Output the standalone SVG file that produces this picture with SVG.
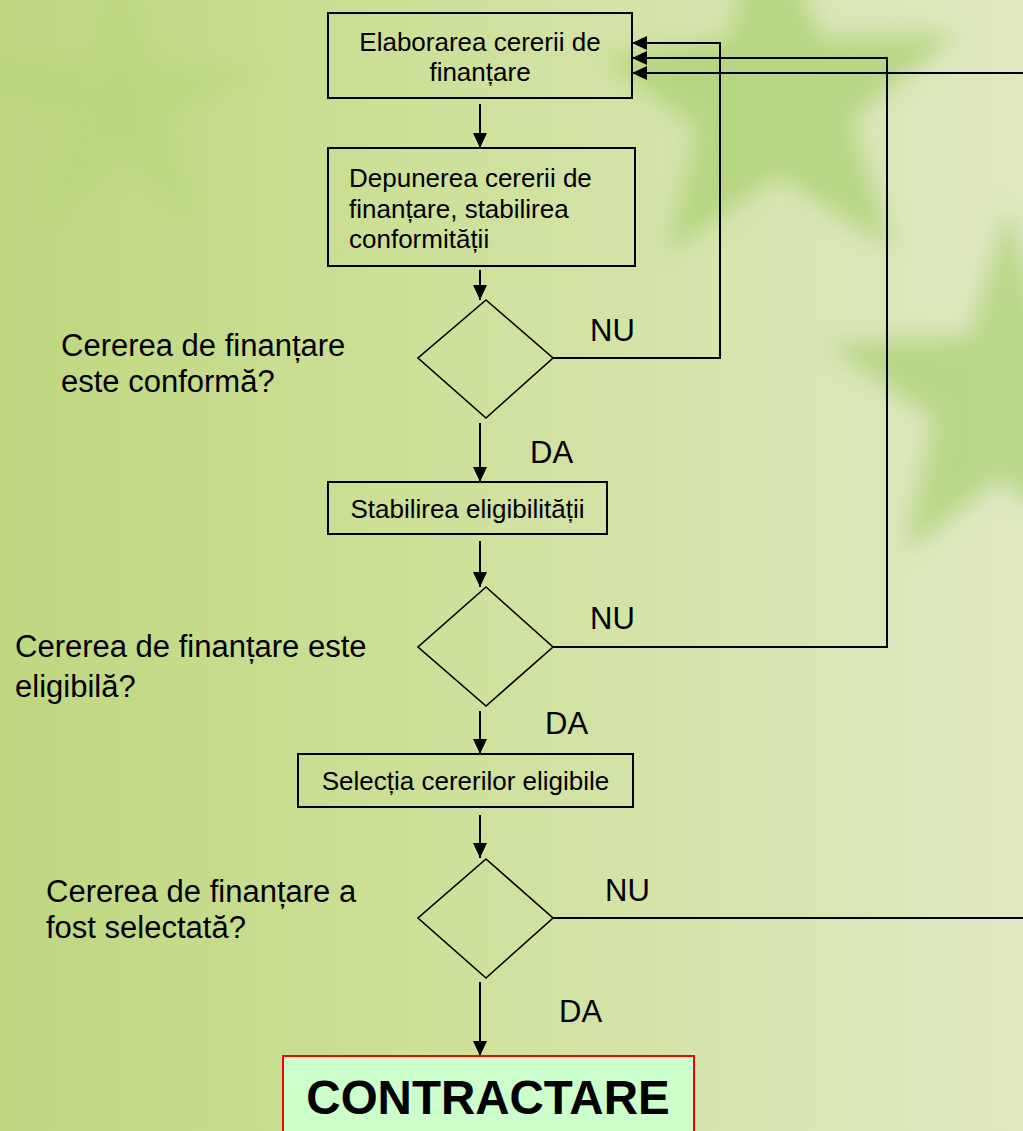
<svg xmlns="http://www.w3.org/2000/svg" width="1023" height="1131" viewBox="0 0 1023 1131">
<defs>
  <linearGradient id="bg" x1="0" y1="0" x2="1" y2="0">
    <stop offset="0" stop-color="#bed77f"/>
    <stop offset="0.45" stop-color="#cee19b"/>
    <stop offset="1" stop-color="#e0e8c4"/>
  </linearGradient>
  <filter id="blur" x="-20%" y="-20%" width="140%" height="140%">
    <feGaussianBlur stdDeviation="11"/>
  </filter>
  <marker id="arr" markerUnits="userSpaceOnUse" markerWidth="16" markerHeight="16" refX="15" refY="7" orient="auto">
    <path d="M0,0 L15,7 L0,14 Z" fill="#000"/>
  </marker>
  <style>
    .box { fill: none; stroke: #000; stroke-width: 2; }
    .dia { fill: none; stroke: #000; stroke-width: 1.6; }
    .con { fill: none; stroke: #000; stroke-width: 2; }
    .t { font-family: "Liberation Sans", Arial, Helvetica, sans-serif; fill: #000; }
    .bt { font-size: 26px; }
    .q { font-size: 31px; }
    .lbl { font-size: 31px; }
  </style>
</defs>

<g id="background">
  <rect x="0" y="0" width="1023" height="1131" fill="url(#bg)"/>
  <polygon filter="url(#blur)" fill="#a2cc66" opacity="0.6"
    points="765,-80 822,38 958,33 852,120 893,250 778,176 667,254 697,129 603,58 727,40"/>
  <polygon filter="url(#blur)" fill="#a2cc66" opacity="0.6"
    points="1008,205 1045,335 1190,330 1070,420 1110,560 1000,480 905,551 933,420 827,344 970,335"/>
  <polygon filter="url(#blur)" fill="#b4d46f" opacity="0.35"
    points="120,-40 150,60 260,70 170,120 200,230 120,160 40,230 70,120 -20,70 90,60"/>
</g>

<g id="connectors">
  <line class="con" x1="480" y1="104" x2="480" y2="148" marker-end="url(#arr)"/>
  <line class="con" x1="480" y1="270" x2="480" y2="300" marker-end="url(#arr)"/>
  <line class="con" x1="480" y1="423" x2="480" y2="482" marker-end="url(#arr)"/>
  <line class="con" x1="480" y1="541" x2="480" y2="587" marker-end="url(#arr)"/>
  <line class="con" x1="480" y1="711" x2="480" y2="754" marker-end="url(#arr)"/>
  <line class="con" x1="480" y1="815" x2="480" y2="858" marker-end="url(#arr)"/>
  <line class="con" x1="480" y1="982" x2="480" y2="1056" marker-end="url(#arr)"/>
  <path class="con" d="M553,358 H720 V43 H632" marker-end="url(#arr)"/>
  <path class="con" d="M553,647 H887 V58 H632" marker-end="url(#arr)"/>
  <path class="con" d="M553,918 H1030 V73 H632" marker-end="url(#arr)"/>
</g>

<g id="n-elaborare">
  <rect class="box" x="328" y="13" width="304" height="85"/>
  <text class="t bt" x="480" y="51" text-anchor="middle">Elaborarea cererii de</text>
  <text class="t bt" x="480" y="81" text-anchor="middle">finanțare</text>
</g>

<g id="n-depunere">
  <rect class="box" x="328" y="148" width="307" height="118"/>
  <text class="t bt" x="349" y="187">Depunerea cererii de</text>
  <text class="t bt" x="349" y="217.5">finanțare, stabilirea</text>
  <text class="t bt" x="349" y="248">conformității</text>
</g>

<g id="n-dec1">
  <polygon class="dia" points="486,300 553,358 486,418 418,358"/>
  <text class="t q" x="61" y="356">Cererea de finanțare</text>
  <text class="t q" x="61" y="392">este conformă?</text>
  <text class="t lbl" x="590" y="341">NU</text>
  <text class="t lbl" x="530" y="463">DA</text>
</g>

<g id="n-eligibilitate">
  <rect class="box" x="328" y="482" width="279" height="52"/>
  <text class="t bt" x="467.5" y="518" text-anchor="middle">Stabilirea eligibilității</text>
</g>

<g id="n-dec2">
  <polygon class="dia" points="486,587 553,647 486,706 418,647"/>
  <text class="t q" x="15" y="657">Cererea de finanțare este</text>
  <text class="t q" x="15" y="697">eligibilă?</text>
  <text class="t lbl" x="590" y="629">NU</text>
  <text class="t lbl" x="545" y="734">DA</text>
</g>

<g id="n-selectie">
  <rect class="box" x="298" y="754" width="335" height="53"/>
  <text class="t bt" x="465.5" y="790" text-anchor="middle">Selecția cererilor eligibile</text>
</g>

<g id="n-dec3">
  <polygon class="dia" points="486,859 553,918 486,978 418,918"/>
  <text class="t q" x="46" y="902">Cererea de finanțare a</text>
  <text class="t q" x="46" y="938">fost selectată?</text>
  <text class="t lbl" x="605" y="901">NU</text>
  <text class="t lbl" x="559" y="1022">DA</text>
</g>

<g id="n-contractare">
  <rect x="283" y="1056" width="411" height="100" fill="#ccffcc" stroke="#ff0000" stroke-width="2"/>
  <text class="t" x="488" y="1114" text-anchor="middle" font-size="47.5" font-weight="bold">CONTRACTARE</text>
</g>
</svg>
